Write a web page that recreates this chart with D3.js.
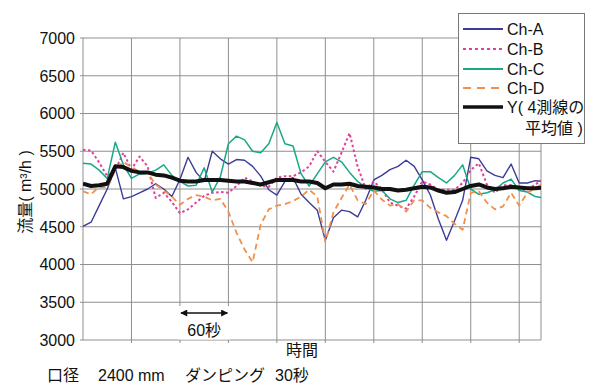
<!DOCTYPE html>
<html><head><meta charset="utf-8">
<script src="https://cdn.jsdelivr.net/npm/d3@7/dist/d3.min.js"></script>
<style>
body{margin:0;background:#fff;}
svg{display:block;font-family:"Liberation Sans","Noto Sans CJK JP",sans-serif;}
</style></head>
<body><svg id="c" width="589" height="385"></svg>
<script>
// time in seconds (sampling every 10 s)
const times = [0,10,20,30,40,50,60,70,80,90,100,110,120,130,140,150,160,170,180,190,200,210,220,230,240,250,260,270,280,290,300,310,320,330,340,350,360,370,380,390,400,410,420,430,440,450,460,470,480,490,500,510,520,530,540,550,560,570];
const chA = [4505,4560,4780,5000,5280,4870,4900,4950,5000,5070,5000,4900,5125,5420,5220,5100,5500,5400,5330,5390,5380,5300,5170,4990,4920,5100,5150,4930,4820,4720,4320,4620,4720,4700,4630,4850,5120,5180,5257,5300,5380,5300,5120,4920,4600,4320,4580,4850,5420,5400,5240,5180,5150,5330,5080,5080,5110,5100];
const chB = [5520,5510,5350,5170,5250,5480,5260,5430,5300,4880,4950,4830,4680,4730,4820,4910,4950,4960,4950,5040,5150,5100,5040,5030,5150,5170,5170,5220,5300,5500,5360,5230,5480,5740,5300,5000,5100,5000,4820,4780,4740,4900,5100,5060,4990,4990,4990,5080,5250,5340,5060,4950,5050,5050,4990,4990,5060,5130];
const chC = [5340,5330,5250,5140,5620,5320,5140,5200,5210,5250,5320,5180,5100,5040,5050,5280,4960,5160,5600,5700,5650,5500,5480,5600,5880,5600,5570,5200,5040,5200,5360,5420,5360,5220,5100,5020,4970,4980,4870,4820,4850,5050,5230,5230,5150,5080,5180,5320,5000,4930,4950,4990,5080,5130,4980,4960,4900,4880];
const chD = [4970,4930,5030,5020,5250,5360,5290,5230,5210,5060,4980,4900,4790,4870,4920,4900,4850,4870,4700,4420,4200,4030,4530,4730,4780,4800,4840,4900,4990,4900,4300,4690,4880,5060,4850,4800,4980,4860,4780,4800,4700,4850,4850,4750,4690,4640,4540,4460,4950,4970,4820,4730,4770,4950,4780,4950,5010,5080];
const chY = [5070,5040,5050,5070,5300,5290,5240,5220,5220,5190,5180,5150,5110,5100,5100,5120,5120,5120,5110,5100,5100,5080,5060,5090,5120,5120,5120,5100,5100,5080,5010,5060,5060,5070,5040,5030,5020,5000,5000,4980,4990,5010,5030,5020,4980,4950,4960,5000,5040,5060,5020,5000,5010,5030,5020,5010,5010,5020];
const yTicks = [3000,3500,4000,4500,5000,5500,6000,6500,7000];
const xGrid = [60,120,180,240,300,360,420,480,540];
const seriesNames = ["Ch-A","Ch-B","Ch-C","Ch-D"];
const avgName = ["Y( 4測線の","平均値 )"];

const svg = d3.select("#c");
const L=83, R=541, T=38, B=340;
const x = d3.scaleLinear().domain([0,567]).range([L,R]);
const y = d3.scaleLinear().domain([3000,7000]).range([B,T]);
const gridCol = "#8f8f8f";

// grid
svg.append("g").selectAll("line").data(yTicks).join("line")
  .attr("x1",L-3).attr("x2",R).attr("y1",d=>y(d)).attr("y2",d=>y(d))
  .attr("stroke",gridCol).attr("stroke-width",1);
svg.append("g").selectAll("line").data(xGrid).join("line")
  .attr("x1",d=>x(d)).attr("x2",d=>x(d)).attr("y1",T).attr("y2",B+3)
  .attr("stroke",gridCol).attr("stroke-width",1);
svg.append("line").attr("x1",L).attr("x2",L).attr("y1",T).attr("y2",B).attr("stroke",gridCol);
svg.append("line").attr("x1",R).attr("x2",R).attr("y1",T).attr("y2",B).attr("stroke",gridCol);

// y tick labels
svg.append("g").selectAll("text").data(yTicks).join("text")
  .attr("x",75).attr("y",d=>y(d)).attr("dy","0.36em")
  .attr("text-anchor","end").attr("font-size",16).attr("fill","#111")
  .text(d=>d);

// 60 s marker
svg.append("rect").attr("x",x(120)-2).attr("y",306).attr("width",x(180)-x(120)+4).attr("height",B-306-0.5).attr("fill","#fff");
const defs = svg.append("defs");
defs.append("marker").attr("id","ah").attr("viewBox","0 0 10 10").attr("refX",9).attr("refY",5)
  .attr("markerWidth",9).attr("markerHeight",7).attr("orient","auto-start-reverse").attr("markerUnits","userSpaceOnUse")
  .append("path").attr("d","M0,0 L10,5 L0,10 z").attr("fill","#111");
svg.append("line").attr("x1",x(120)+1).attr("x2",x(180)-1).attr("y1",313).attr("y2",313)
  .attr("stroke","#111").attr("stroke-width",1.3)
  .attr("marker-start","url(#ah)").attr("marker-end","url(#ah)");
svg.append("text").attr("x",(x(120)+x(180))/2).attr("y",336).attr("text-anchor","middle")
  .attr("font-size",16).attr("fill","#111").text("60秒");

// clip
defs.append("clipPath").attr("id","clip").append("rect").attr("x",L).attr("y",T).attr("width",R-L).attr("height",B-T);

const line = d3.line().x((d,i)=>x(times[i])).y(d=>y(d));
const styles = [
  {data:chA,color:"#3c3c98",w:1.4,dash:null},
  {data:chB,color:"#e2409c",w:2,dash:"2.5,2.5"},
  {data:chC,color:"#17a886",w:1.5,dash:null},
  {data:chD,color:"#f0904a",w:1.8,dash:"6,4"},
  {data:chY,color:"#111",w:4,dash:null}
];
const gl = svg.append("g").attr("clip-path","url(#clip)");
styles.forEach(s=>{
  gl.append("path").datum(s.data).attr("d",line).attr("fill","none")
    .attr("stroke",s.color).attr("stroke-width",s.w).attr("stroke-linejoin","round")
    .attr("stroke-dasharray",s.dash);
});

// axis titles
svg.append("text").attr("transform","translate(25,192) rotate(-90)").attr("text-anchor","middle")
  .attr("dominant-baseline","central").attr("font-size",16).attr("fill","#111").text("流量( m³/h )");
svg.append("text").attr("x",302).attr("y",356).attr("text-anchor","middle").attr("font-size",16).attr("fill","#111").text("時間");
const foot = [["口径",47],["2400 mm",98],["ダンピング",185],["30秒",275]];
svg.append("g").selectAll("text").data(foot).join("text")
  .attr("x",d=>d[1]).attr("y",381).attr("font-size",16).attr("fill","#111").text(d=>d[0]);

// legend
const lg = svg.append("g");
lg.append("rect").attr("x",458.5).attr("y",13.5).attr("width",126).attr("height",130).attr("fill","#fff").attr("stroke","#777");
const rows = [29,49,69,88,107];
const legItems = [
  {name:seriesNames[0],s:styles[0],dash:null},
  {name:seriesNames[1],s:styles[1],dash:"3,3"},
  {name:seriesNames[2],s:styles[2],dash:null},
  {name:seriesNames[3],s:styles[3],dash:"8,6"},
  {name:avgName[0],s:styles[4],dash:null}
];
legItems.forEach((it,i)=>{
  lg.append("line").attr("x1",463).attr("x2",503).attr("y1",rows[i]).attr("y2",rows[i])
    .attr("stroke",it.s.color).attr("stroke-width",i===4?3.5:(i===1?2.2:1.8)).attr("stroke-dasharray",it.dash);
  lg.append("text").attr("x",507).attr("y",rows[i]).attr("dy","0.36em").attr("font-size",16).attr("fill","#111").text(it.name);
});
lg.append("text").attr("x",525).attr("y",128).attr("dy","0.36em").attr("font-size",16).attr("fill","#111").text(avgName[1]);
</script></body></html>
